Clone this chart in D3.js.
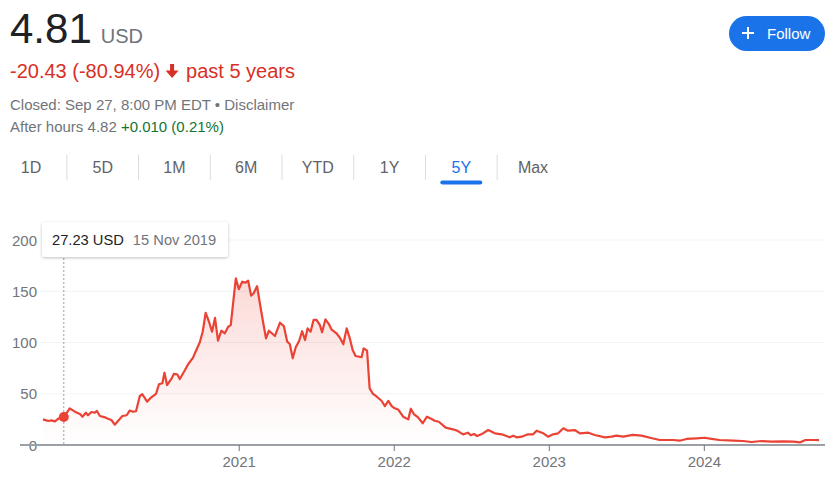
<!DOCTYPE html>
<html><head><meta charset="utf-8">
<script src="https://cdnjs.cloudflare.com/ajax/libs/d3/7.8.5/d3.min.js"></script>
<style>
html,body{margin:0;padding:0;background:#fff;}
svg{display:block;font-family:Arial,"Liberation Sans",sans-serif;}
</style></head>
<body><svg id="c" width="834" height="479"></svg>
<script>
const dates = ["2019-09-27","2019-10-09","2019-10-17","2019-10-25","2019-11-02","2019-11-15","2019-11-29","2019-12-11","2019-12-23","2019-12-29",
"2020-01-06","2020-01-11","2020-01-19","2020-01-27","2020-02-01","2020-02-08","2020-02-20","2020-02-27","2020-03-06","2020-03-14",
"2020-03-22","2020-04-01","2020-04-11","2020-04-18","2020-04-26","2020-05-03","2020-05-12","2020-05-18","2020-05-29","2020-06-08",
"2020-06-19","2020-06-26","2020-07-04","2020-07-09","2020-07-15","2020-07-26","2020-07-31","2020-08-08","2020-08-14","2020-08-24",
"2020-09-03","2020-09-14","2020-09-22","2020-09-30","2020-10-07","2020-10-14","2020-10-22","2020-10-29","2020-11-05","2020-11-12",
"2020-11-20","2020-11-28","2020-12-06","2020-12-12","2020-12-18","2020-12-24","2020-12-31","2021-01-08","2021-01-16","2021-01-22",
"2021-01-29","2021-02-04","2021-02-12","2021-02-18","2021-02-26","2021-03-05","2021-03-12","2021-03-26","2021-04-07","2021-04-16",
"2021-04-24","2021-04-30","2021-05-07","2021-05-14","2021-05-22","2021-05-29","2021-06-05","2021-06-11","2021-06-18","2021-06-25",
"2021-07-02","2021-07-10","2021-07-15","2021-07-23","2021-07-31","2021-08-06","2021-08-18","2021-08-27","2021-09-03","2021-09-11",
"2021-09-19","2021-09-25","2021-10-02","2021-10-16","2021-10-21","2021-10-29","2021-11-04","2021-11-12","2021-11-21","2021-12-02",
"2021-12-10","2021-12-18","2021-12-26","2022-01-02","2022-01-10","2022-01-22","2022-02-03","2022-02-09","2022-02-16","2022-02-26",
"2022-03-09","2022-03-19","2022-03-30","2022-04-06","2022-04-16","2022-05-02","2022-05-19","2022-05-29","2022-06-12","2022-06-24",
"2022-06-30","2022-07-08","2022-07-15","2022-07-25","2022-08-10","2022-08-26","2022-09-11","2022-09-30","2022-10-08","2022-10-16",
"2022-10-28","2022-11-12","2022-11-24","2022-12-02","2022-12-18","2022-12-29","2023-01-10","2023-01-22","2023-02-03","2023-02-14",
"2023-03-02","2023-03-14","2023-04-03","2023-04-18","2023-05-12","2023-05-28","2023-06-08","2023-06-24","2023-07-17","2023-08-06",
"2023-08-26","2023-09-18","2023-10-20","2023-11-04","2023-11-20","2023-12-14","2024-01-02","2024-01-18","2024-02-06","2024-03-09",
"2024-04-01","2024-04-21","2024-05-15","2024-06-07","2024-07-05","2024-07-29","2024-08-14","2024-08-26","2024-09-14","2024-09-27"];
const prices = [25,23.4,24,23,25.7,27.23,35.8,32.5,30.2,27.6,
31.5,29,32.2,31.5,33.2,28.3,27,25.7,24.4,19.8,
23.7,28.3,29,33.5,32.5,32.9,47.8,49.5,42.3,46.5,
49.8,59.2,60.2,70.5,58.5,65,69.3,69,64.4,71.5,
79,85,92.7,100,110.5,129,120,110.5,124,101.8,
111.5,109,115.4,117,139.8,162.6,152,159.3,158.4,160.3,
145.7,148,155,139.8,120.3,104,111.5,106.3,119.3,116,
100.8,98.5,84.6,95.3,101.5,111,102.4,113.8,110.5,122,
122,117,110,122.6,118,112.9,109,104,98.2,113.8,
103,92.7,86.8,85.6,94.3,92,55.3,49.8,47.1,43.2,
38,43,38,35.8,34.7,27.6,25,35.4,30.2,27,
21.2,27.6,25.4,23.7,22.7,16.9,15.3,14,10.4,12,
9.5,10.7,8.8,10.4,14.6,11.4,10.4,7.5,9,7.5,
8.1,10.4,10.4,14,11.4,8.1,10.4,11.4,16.3,14,
14.6,11.4,12,9.8,7.5,8.1,9.1,8.1,9.8,9.1,
7.1,4.9,4.9,4.2,5.9,6.5,7.1,5.9,4.9,4.2,
3.9,2.9,3.9,3.2,3.6,3.2,2.6,4.9,4.9,4.81];
const yTicks = [0,50,100,150,200];
const xTickYears = ["2021","2022","2023","2024"];
const tabs = ["1D","5D","1M","6M","YTD","1Y","5Y","Max"];
const activeTab = "5Y";
const hover = {date:"2019-11-15", price:27.23, label:"27.23 USD", dateLabel:"15 Nov 2019"};

const parse = d3.timeParse("%Y-%m-%d");
const data = dates.map((d,i)=>({date:parse(d), v:prices[i]}));
const svg = d3.select("#c");

// Header
const big = svg.append("text").attr("x",10).attr("y",43).attr("font-size",42).attr("fill","#202124").text("4.81");
svg.append("text").attr("x",10+big.node().getComputedTextLength()+9).attr("y",43).attr("font-size",20).attr("fill","#70757a").text("USD");
const chg = svg.append("text").attr("x",10).attr("y",78).attr("font-size",20).attr("fill","#d93025").text("-20.43 (-80.94%)");
const ax = 10 + chg.node().getComputedTextLength() + 12;
svg.append("path").attr("d",`M${ax-2},64 h4 v6.5 h4.5 l-6.5,7.5 l-6.5,-7.5 h4.5 z`).attr("fill","#d93025");
svg.append("text").attr("x",ax+14).attr("y",78).attr("font-size",20).attr("fill","#d93025").text("past 5 years");
svg.append("text").attr("x",10).attr("y",110).attr("font-size",15).attr("fill","#70757a").text("Closed: Sep 27, 8:00 PM EDT \u2022 Disclaimer");
const ah = svg.append("text").attr("x",10).attr("y",132).attr("font-size",15).attr("fill","#70757a");
ah.append("tspan").text("After hours 4.82 ");
ah.append("tspan").attr("fill","#137333").text("+0.010 (0.21%)");

// Follow button
svg.append("rect").attr("x",729).attr("y",16).attr("width",96).attr("height",35).attr("rx",17.5).attr("fill","#1a73e8");
svg.append("path").attr("d","M748,27 v12 M742,33 h12").attr("stroke","#fff").attr("stroke-width",2);
svg.append("text").attr("x",767).attr("y",38.5).attr("font-size",15).attr("fill","#fff").text("Follow");

// Tabs
const tabX = d3.scalePoint().domain(tabs).range([31,533]);
tabs.forEach((t,i)=>{
  svg.append("text").attr("x",tabX(t)).attr("y",173).attr("text-anchor","middle").attr("font-size",16)
    .attr("fill", t===activeTab?"#1a73e8":"#5f6368").text(t);
  if(i<tabs.length-1){
    const sx=(tabX(t)+tabX(tabs[i+1]))/2;
    svg.append("line").attr("x1",sx).attr("x2",sx).attr("y1",155).attr("y2",180).attr("stroke","#dadce0").attr("stroke-width",1);
  }
});
svg.append("rect").attr("x",tabX(activeTab)-21).attr("y",180.5).attr("width",42).attr("height",4).attr("rx",2).attr("fill","#1a73e8");

// Chart
const x = d3.scaleTime().domain([parse("2019-09-27"),parse("2024-09-27")]).range([43,819]);
const y = d3.scaleLinear().domain([0,200]).range([445,240]);

const defs = svg.append("defs");
const grad = defs.append("linearGradient").attr("id","ag").attr("gradientUnits","userSpaceOnUse")
  .attr("x1",0).attr("x2",0).attr("y1",y(165)).attr("y2",y(0));
grad.append("stop").attr("offset","0").attr("stop-color","#ea4335").attr("stop-opacity",0.2);
grad.append("stop").attr("offset","1").attr("stop-color","#ea4335").attr("stop-opacity",0);
const sh = defs.append("filter").attr("id","sh").attr("x","-20%").attr("y","-30%").attr("width","140%").attr("height","170%");
sh.append("feDropShadow").attr("dx",0).attr("dy",1).attr("stdDeviation",1.5).attr("flood-color","#000").attr("flood-opacity",0.25);

svg.append("g").selectAll("line").data(yTicks.filter(t=>t>0)).join("line")
  .attr("x1",40).attr("x2",825).attr("y1",d=>y(d)).attr("y2",d=>y(d))
  .attr("stroke","#f1f3f4").attr("stroke-width",1);
svg.append("g").selectAll("text").data(yTicks).join("text")
  .attr("x",37).attr("y",d=>y(d)+5.5).attr("text-anchor","end").attr("font-size",15).attr("fill","#70757a").text(d=>d);

svg.append("path").datum(data).attr("fill","url(#ag)")
  .attr("d",d3.area().x(d=>x(d.date)).y0(y(0)).y1(d=>y(d.v)));
svg.append("path").datum(data).attr("fill","none").attr("stroke","#ea4335").attr("stroke-width",2.2)
  .attr("stroke-linejoin","round").attr("d",d3.line().x(d=>x(d.date)).y(d=>y(d.v)));

svg.append("line").attr("x1",20).attr("x2",825).attr("y1",y(0)).attr("y2",y(0)).attr("stroke","#9aa0a6").attr("stroke-width",2);
xTickYears.forEach(yr=>{
  const px = x(parse(yr+"-01-01"));
  svg.append("line").attr("x1",px).attr("x2",px).attr("y1",y(0)).attr("y2",y(0)+6).attr("stroke","#70757a").attr("stroke-width",1);
  svg.append("text").attr("x",px).attr("y",467).attr("text-anchor","middle").attr("font-size",15).attr("fill","#70757a").text(yr);
});

const hx = x(parse(hover.date));
svg.append("line").attr("x1",hx).attr("x2",hx).attr("y1",258).attr("y2",y(0)).attr("stroke","#9aa0a6").attr("stroke-width",1).attr("stroke-dasharray","2,2");
svg.append("circle").attr("cx",hx).attr("cy",y(hover.price)).attr("r",5).attr("fill","#ea4335");
svg.append("rect").attr("x",42).attr("y",222).attr("width",186).attr("height",35).attr("rx",3).attr("fill","#fff").attr("filter","url(#sh)");
const tt = svg.append("text").attr("x",52).attr("y",245).attr("font-size",14.7);
tt.append("tspan").attr("fill","#202124").text(hover.label);
tt.append("tspan").attr("dx",9).attr("fill","#70757a").text(hover.dateLabel);
</script></body></html>
